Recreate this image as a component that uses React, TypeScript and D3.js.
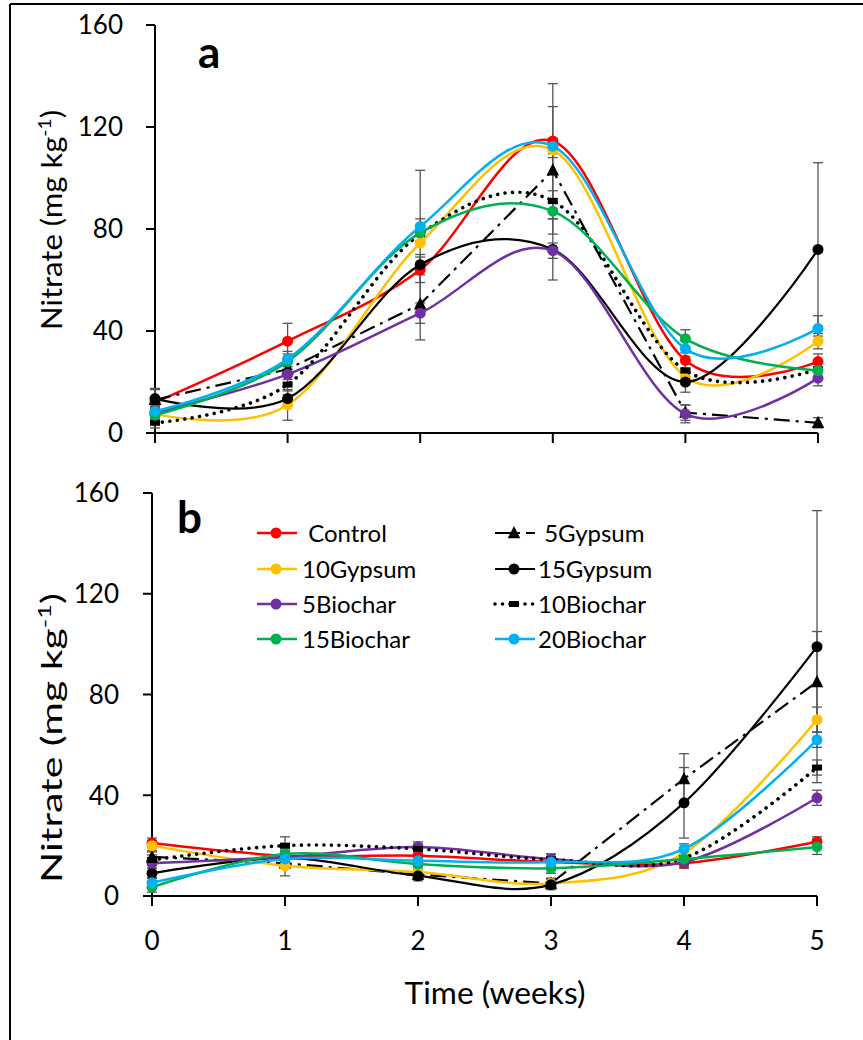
import React from 'react';
import * as d3 from 'd3';

const weeks = [0, 1, 2, 3, 4, 5];
const yTicks = [0, 40, 80, 120, 160];
const seriesNames = ['Control', '5Gypsum', '10Gypsum', '15Gypsum', '5Biochar', '10Biochar', '15Biochar', '20Biochar'];

// Panel a (values)
const controlA = [12, 36, 64, 114.5, 28.5, 28];
const gyp5A = [13, 25, 50.5, 103, 8, 4];
const gyp10A = [7.5, 11, 74.5, 111, 22, 36];
const gyp15A = [13.5, 13.5, 66, 72, 20, 72];
const bio5A = [8, 23, 47, 71.5, 7.5, 21.5];
const bio10A = [4, 19, 78, 91, 24.5, 25];
const bio15A = [7, 28, 78.5, 87, 37, 24.5];
const bio20A = [8.5, 29, 81, 112.5, 33, 41];

// Panel a (error)
const controlSdA = [2, 7, 5, 22.5, 3, 3];
const gyp5SdA = [4, 3, 14, 25, 3, 2];
const gyp10SdA = [2, 6, 28.5, 3, 3, 3];
const gyp15SdA = [4, 3, 4, 12, 4, 34];
const bio5SdA = [2, 2, 4, 3, 3.5, 3];
const bio10SdA = [2, 4, 3, 4, 3, 3];
const bio15SdA = [2, 3, 3, 3, 3.5, 3];
const bio20SdA = [2, 3, 3, 3, 3, 5];

// Panel b (values)
const controlB = [21, 16, 16, 13.5, 13, 21.5];
const gyp5B = [15.5, 13, 8.5, 5, 46.5, 85];
const gyp10B = [20, 12, 9.5, 5, 17, 70];
const gyp15B = [9, 15, 8, 4.5, 37, 99];
const bio5B = [13, 15.5, 19.5, 14.7, 13.5, 39];
const bio10B = [14.3, 20, 18.7, 14.5, 15, 51];
const bio15B = [3.5, 16.7, 12.7, 11, 14.7, 19.5];
const bio20B = [5.3, 14.7, 14, 13.5, 18.7, 62];

// Panel b (error)
const controlSdB = [2, 2, 2, 2, 2, 2];
const gyp5SdB = [2, 2, 2, 2, 10, 20];
const gyp10SdB = [2, 4, 2, 2, 2, 5];
const gyp15SdB = [2, 2, 2, 2, 14, 54];
const bio5SdB = [2, 2, 2, 2, 2, 3];
const bio10SdB = [2, 3.5, 2, 2, 2, 3];
const bio15SdB = [2, 2, 2, 2, 2, 3];
const bio20SdB = [2, 2, 2, 3, 2, 3];

const styles: Record<string, { color: string; dash?: string; width: number; marker: string; smooth: boolean; cap?: string }> = {
  'Control': { color: '#FF0000', width: 2.5, marker: 'circle', smooth: true },
  '5Gypsum': { color: '#000000', width: 2.2, dash: '16 6 3 6', marker: 'triangle', smooth: false },
  '10Gypsum': { color: '#FFC000', width: 2.5, marker: 'circle', smooth: true },
  '15Gypsum': { color: '#000000', width: 2.2, marker: 'circle', smooth: true },
  '5Biochar': { color: '#7030A0', width: 2.5, marker: 'circle', smooth: true },
  '10Biochar': { color: '#000000', width: 3.6, dash: '0.01 7.5', cap: 'round', marker: 'rect', smooth: true },
  '15Biochar': { color: '#00B050', width: 2.5, marker: 'circle', smooth: true },
  '20Biochar': { color: '#00B0F0', width: 2.5, marker: 'circle', smooth: true },
};

const panelAValues = [controlA, gyp5A, gyp10A, gyp15A, bio5A, bio10A, bio15A, bio20A];
const panelASd = [controlSdA, gyp5SdA, gyp10SdA, gyp15SdA, bio5SdA, bio10SdA, bio15SdA, bio20SdA];
const panelBValues = [controlB, gyp5B, gyp10B, gyp15B, bio5B, bio10B, bio15B, bio20B];
const panelBSd = [controlSdB, gyp5SdB, gyp10SdB, gyp15SdB, bio5SdB, bio10SdB, bio15SdB, bio20SdB];

const legendRows = [
  ['Control', '5Gypsum'],
  ['10Gypsum', '15Gypsum'],
  ['5Biochar', '10Biochar'],
  ['15Biochar', '20Biochar'],
];

const FONT = 'Lato, "Open Sans", sans-serif';

function Marker({ type, x, y, color }: { type: string; x: number; y: number; color: string }) {
  if (type === 'triangle') {
    const s = 7;
    return <path d={`M${x},${y - s} L${x + s * 0.9},${y + s * 0.75} L${x - s * 0.9},${y + s * 0.75} Z`} fill={color} />;
  }
  if (type === 'rect') {
    return <rect x={x - 5} y={y - 3} width={10} height={6} fill={color} />;
  }
  return <circle cx={x} cy={y} r={5.5} fill={color} />;
}

function Panel({ x0, x1, y0, y1, values, sds, label, labelX, labelY, showXLabels, titleLen, titleCenter, tickRight }: any) {
  const x = d3.scaleLinear().domain([0, 5]).range([x0, x1]);
  const y = d3.scaleLinear().domain([0, 160]).range([y0, y1]);
  return (
    <g>
      <line x1={x0} x2={x0} y1={y1} y2={y0} stroke="#000" strokeWidth={2} />
      <line x1={x0} x2={x1} y1={y0} y2={y0} stroke="#000" strokeWidth={2} />
      {yTicks.map((t) => (
        <g key={'yt' + t}>
          <line x1={x0 - 9} x2={x0} y1={y(t)} y2={y(t)} stroke="#000" strokeWidth={2} />
          <text x={tickRight} y={y(t)} dy="0.36em" textAnchor="end" fontFamily={FONT} fontSize={26} fill="#000">{t}</text>
        </g>
      ))}
      {weeks.map((w) => (
        <g key={'xt' + w}>
          <line x1={x(w)} x2={x(w)} y1={y0} y2={y0 + 10} stroke="#000" strokeWidth={2} />
          {showXLabels && (
            <text x={x(w)} y={y0 + 54} textAnchor="middle" fontFamily={FONT} fontSize={26} fill="#000">{w}</text>
          )}
        </g>
      ))}
      <text transform={`translate(62,${titleCenter}) rotate(-90)`} textAnchor="middle" fontFamily={FONT} fontSize={29} fill="#000" textLength={titleLen} lengthAdjust="spacingAndGlyphs">
        <tspan>Nitrate (mg kg</tspan>
        <tspan dy={-11} fontSize={18}>-1</tspan>
        <tspan dy={11}>)</tspan>
      </text>
      <text x={labelX} y={labelY} fontFamily={FONT} fontWeight="bold" fontSize={44} fill="#000">{label}</text>
      {seriesNames.map((name, i) => (
        <g key={'eb' + name}>
          {weeks.map((w, j) => {
            const v = values[i][j];
            const e = sds[i][j];
            const cx = x(w);
            return (
              <g key={j} stroke="#555" strokeWidth={1.3}>
                <line x1={cx} x2={cx} y1={y(v - e)} y2={y(v + e)} />
                <line x1={cx - 5} x2={cx + 5} y1={y(v - e)} y2={y(v - e)} />
                <line x1={cx - 5} x2={cx + 5} y1={y(v + e)} y2={y(v + e)} />
              </g>
            );
          })}
        </g>
      ))}
      {seriesNames.map((name, i) => {
        const st = styles[name];
        const gen = d3.line<number>()
          .x((_, j) => x(weeks[j]))
          .y((d) => y(d))
          .curve(st.smooth ? d3.curveCardinal.tension(0) : d3.curveLinear);
        return (
          <g key={'ln' + name}>
            <path d={gen(values[i]) || ''} fill="none" stroke={st.color} strokeWidth={st.width} strokeDasharray={st.dash} strokeLinecap={(st.cap as any) || 'butt'} />
            {weeks.map((w, j) => (
              <Marker key={j} type={st.marker} x={x(w)} y={y(values[i][j])} color={st.color} />
            ))}
          </g>
        );
      })}
    </g>
  );
}

function Legend() {
  const cols = [{ lx: 257, tx: 302 }, { lx: 495, tx: 538 }];
  const rowY = [533, 569, 604, 639];
  return (
    <g>
      {legendRows.map((row, r) =>
        row.map((name, c) => {
          const st = styles[name];
          const { lx, tx } = cols[c];
          const cy = rowY[r];
          const label = name === 'Control' || name === '5Gypsum' ? '\u00A0' + name : name;
          return (
            <g key={name}>
              <line x1={lx} x2={lx + 40} y1={cy} y2={cy} stroke={st.color} strokeWidth={st.width} strokeDasharray={st.dash} strokeLinecap={(st.cap as any) || 'butt'} />
              <Marker type={st.marker} x={lx + 19} y={cy} color={st.color} />
              <text x={tx} y={cy} dy="0.36em" fontFamily={FONT} fontSize={24} fill="#000">{label}</text>
            </g>
          );
        })
      )}
    </g>
  );
}

export default function App() {
  return (
    <div style={{ position: 'absolute', left: 0, top: 0 }}>
      <svg width={863} height={1040} style={{ display: 'block', background: '#fff' }}>
        <rect x={0} y={0} width={863} height={1040} fill="#fff" />
        <line x1={10} x2={10} y1={4} y2={1040} stroke="#000" strokeWidth={2} />
        <line x1={10} x2={863} y1={4} y2={4} stroke="#000" strokeWidth={2} />
        <Panel x0={155} x1={818} y0={433} y1={25} values={panelAValues} sds={panelASd} label="a" labelX={198} labelY={68} showXLabels={false} titleLen={220} titleCenter={220} tickRight={123} />
        <Panel x0={152} x1={817} y0={896} y1={493} values={panelBValues} sds={panelBSd} label="b" labelX={177} labelY={533} showXLabels={true} titleLen={290} titleCenter={738} tickRight={119} />
        <Legend />
        <text x={495} y={1004} textAnchor="middle" fontFamily={FONT} fontSize={30} fill="#000" textLength={181} lengthAdjust="spacingAndGlyphs">Time (weeks)</text>
      </svg>
    </div>
  );
}
